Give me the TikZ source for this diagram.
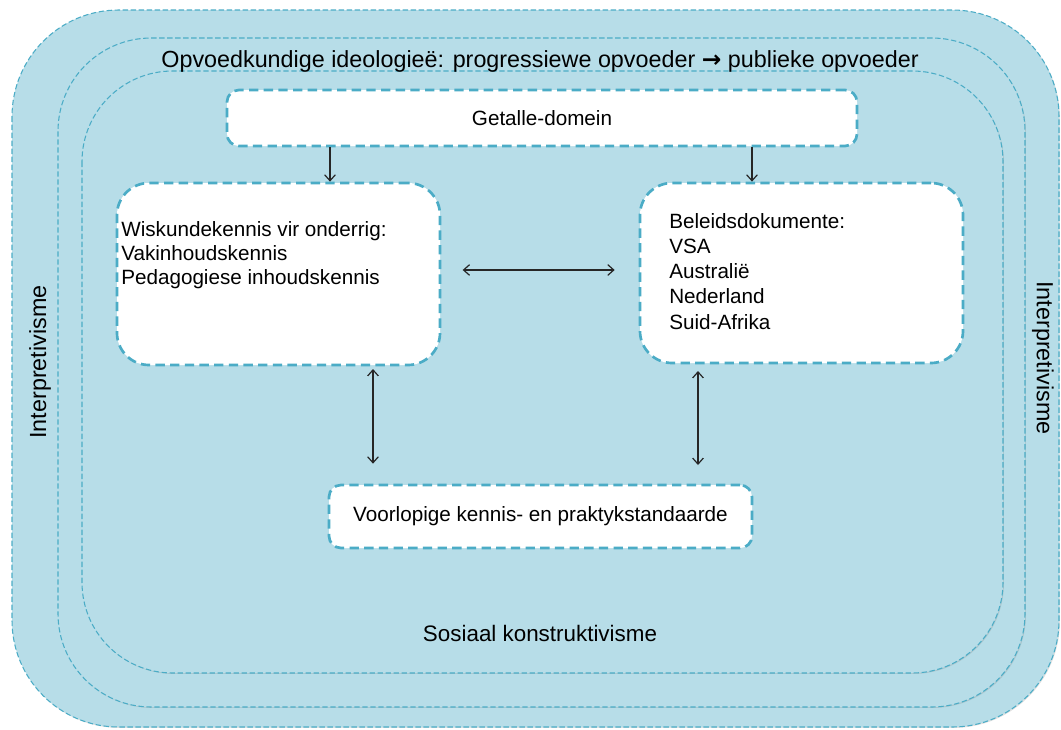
\documentclass[tikz,border=0pt]{standalone}
\usepackage{fontspec}
\setmainfont{Liberation Sans}
\newfontfamily\symfont{DejaVu Sans}
\usetikzlibrary{arrows.meta,shadows,calc}
\definecolor{layerfill}{HTML}{B7DDE8}
\definecolor{dashblue}{HTML}{4BACC6}
\tikzset{
  layer/.style={draw=dashblue, fill=layerfill, line width=0.8pt,
    dash pattern=on 4pt off 2pt,
    drop shadow={opacity=0.25, shadow xshift=0.7pt, shadow yshift=-0.7pt}},
  whitebox/.style={draw=dashblue, fill=white, line width=2pt,
    dash pattern=on 7pt off 4pt, rectangle, inner sep=0pt},
  label/.style={font=\fontsize{15.5}{18}\selectfont, text=black, inner sep=0pt},
  biglabel/.style={label, font=\fontsize{17.5}{20}\selectfont},
  link/.style={draw=black!85, line width=0.9pt,
    {Straight Barb[length=4.5pt,width=8pt]}-{Straight Barb[length=4.5pt,width=8pt]}},
  down/.style={draw=black!85, line width=0.9pt, -{Straight Barb[length=4.5pt,width=8pt]}}
}
\begin{document}
\begin{tikzpicture}[x=0.75pt,y=-0.75pt]
\useasboundingbox (0,0) rectangle (1061,729);

% nested framework layers
\draw[layer, rounded corners=80pt] (12,10) rectangle (1059,727);
\draw[layer, rounded corners=70pt] (58,38) rectangle (1025,707);
\draw[layer, rounded corners=68pt] (82,71) rectangle (1003,673);

% layer captions
\node[biglabel] (ideo) at (540,61)
  {Opvoedkundige ideologieë: progressiewe opvoeder {\symfont\bfseries →} publieke opvoeder};
\node[biglabel] (interpL) at (40,362) [rotate=90] {Interpretivisme};
\node[biglabel] (interpR) at (1043,358) [rotate=-90] {Interpretivisme};
\node[label, font=\fontsize{16.8}{20}\selectfont] (sosiaal) at (540,633) {Sosiaal konstruktivisme};

% content boxes
\node[whitebox, rounded corners=9pt, minimum width=472.5pt, minimum height=42pt]
  (getal) at (542,118) {};
\node[label] at (getal) {Getalle-domein};

\node[whitebox, rounded corners=24pt, minimum width=242.25pt, minimum height=136.5pt]
  (wisk) at (278.5,274) {};
\node[label, anchor=north west, align=left] (wisktxt) at (121,221)
  {Wiskundekennis vir onderrig:\\Vakinhoudskennis\\Pedagogiese inhoudskennis};

\node[whitebox, rounded corners=24pt, minimum width=242.25pt, minimum height=135pt]
  (beleid) at (801.5,273) {};
\node[label, anchor=north west, align=left,
  font=\fontsize{15.5}{18.9}\selectfont] (beleidtxt) at (669,213)
  {Beleidsdokumente:\\VSA\\Australië\\Nederland\\Suid-Afrika};

\node[whitebox, rounded corners=9pt, minimum width=317.25pt, minimum height=47.25pt]
  (voorl) at (540.5,516.5) {};
\node[label] at (voorl) {Voorlopige kennis- en praktykstandaarde};

% connector anchor columns
\coordinate (cL) at (330,0);
\coordinate (cR) at (752,0);
\coordinate (vL) at (373,0);
\coordinate (vR) at (698,0);
\coordinate (hY) at (0,270);

% connectors
\draw[down] (getal.south -| cL) -- (wisk.north -| cL);
\draw[down] (getal.south -| cR) -- (beleid.north -| cR);
\draw[link, shorten <=16pt, shorten >=18pt] (wisk.east |- hY) -- (beleid.west |- hY);
\draw[link, shorten <=2pt, shorten >=15pt] (wisk.south -| vL) -- (voorl.north -| vL);
\draw[link, shorten <=5pt, shorten >=14pt] (beleid.south -| vR) -- (voorl.north -| vR);
\end{tikzpicture}
\end{document}
